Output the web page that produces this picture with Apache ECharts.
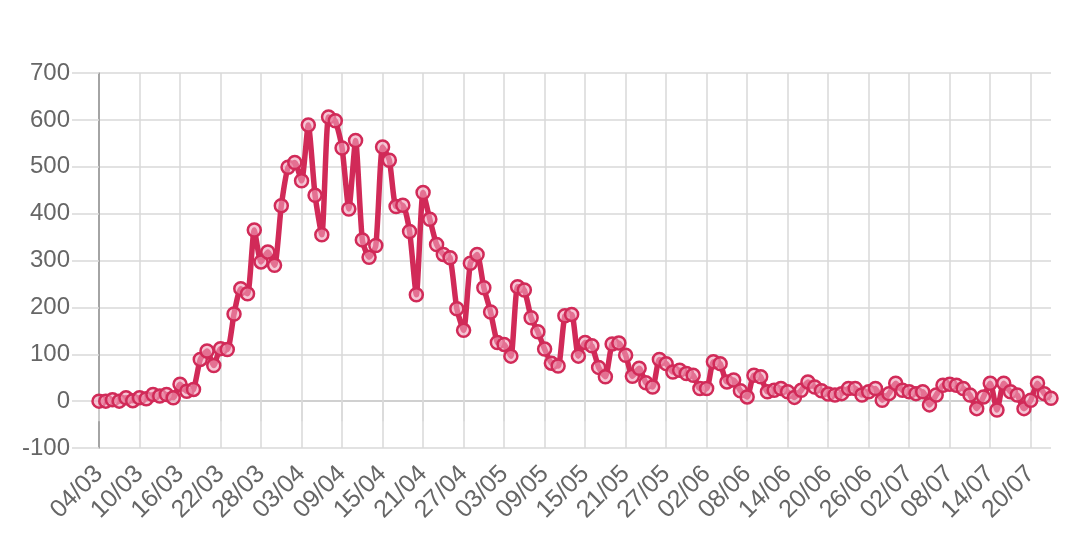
<!DOCTYPE html>
<html>
<head>
<meta charset="utf-8">
<script src="https://cdn.jsdelivr.net/npm/echarts@6/dist/echarts.min.js"></script>
<style>
html,body{margin:0;padding:0;background:#fff;}
#chart{width:1080px;height:536px;}
</style>
</head>
<body>
<div id="chart"></div>
<script>
const categories = [
"04/03","05/03","06/03","07/03","08/03","09/03","10/03","11/03","12/03","13/03","14/03","15/03","16/03","17/03","18/03","19/03","20/03","21/03","22/03","23/03","24/03","25/03","26/03","27/03","28/03","29/03","30/03","31/03",
"01/04","02/04","03/04","04/04","05/04","06/04","07/04","08/04","09/04","10/04","11/04","12/04","13/04","14/04","15/04","16/04","17/04","18/04","19/04","20/04","21/04","22/04","23/04","24/04","25/04","26/04","27/04","28/04","29/04","30/04",
"01/05","02/05","03/05","04/05","05/05","06/05","07/05","08/05","09/05","10/05","11/05","12/05","13/05","14/05","15/05","16/05","17/05","18/05","19/05","20/05","21/05","22/05","23/05","24/05","25/05","26/05","27/05","28/05","29/05","30/05","31/05",
"01/06","02/06","03/06","04/06","05/06","06/06","07/06","08/06","09/06","10/06","11/06","12/06","13/06","14/06","15/06","16/06","17/06","18/06","19/06","20/06","21/06","22/06","23/06","24/06","25/06","26/06","27/06","28/06","29/06","30/06",
"01/07","02/07","03/07","04/07","05/07","06/07","07/07","08/07","09/07","10/07","11/07","12/07","13/07","14/07","15/07","16/07","17/07","18/07","19/07","20/07","21/07","22/07","23/07"
];
const values = [
0,0,3,0,7,1,7,5,14,11,14,7,36,21,25,89,107,76,112,110,
186,240,229,365,297,318,290,417,499,509,470,589,439,355,606,598,540,410,556,344,
307,332,542,514,415,418,362,227,445,388,334,313,306,197,151,294,313,242,190,125,
121,96,244,237,178,148,111,81,75,182,185,96,125,118,72,52,122,124,98,53,
70,39,30,89,80,62,66,59,55,27,27,84,80,41,45,22,9,55,52,20,
23,27,20,8,23,41,30,22,15,13,16,27,27,13,20,27,2,16,38,23,
20,16,20,-8,13,34,36,34,27,13,-16,9,38,-19,38,20,13,-16,2,38,
16,6
];
const yMin = -100, yMax = 700, yStep = 100;

const light = '#d9d9d9', dark = '#9e9e9e';
const ySplitColors = [];
for (let v = yMin; v <= yMax; v += yStep) ySplitColors.push(v === 0 ? dark : light);
const xSplitColors = [dark];
for (let k = 1; k < 40; k++) xSplitColors.push(light);

const chart = echarts.init(document.getElementById('chart'), null, {renderer:'canvas'});
const font = '"Liberation Sans", Arial, Helvetica, sans-serif';
chart.setOption({
  animation: false,
  backgroundColor: '#fff',
  grid: {left: 99, right: 29, top: 73, bottom: 88, containLabel: false},
  xAxis: {
    type: 'category',
    data: categories,
    boundaryGap: false,
    axisLine: {show: true, lineStyle: {color: light, width: 1.5}},
    axisTick: {show: true, interval: 5, length: 20, lineStyle: {color: light, width: 1.5}},
    axisLabel: {interval: 5, rotate: 45, margin: 22, color: '#666', fontSize: 25, fontFamily: font},
    splitLine: {show: true, interval: 5, lineStyle: {color: xSplitColors, width: 1.5}}
  },
  yAxis: {
    type: 'value',
    min: yMin, max: yMax, interval: yStep,
    axisLine: {show: true, lineStyle: {color: dark, width: 1.5}},
    axisTick: {show: true, length: 27, lineStyle: {color: light, width: 1.5}},
    axisLabel: {margin: 29, color: '#666', fontSize: 24, fontFamily: font},
    splitLine: {show: true, lineStyle: {color: ySplitColors, width: 1.5}}
  },
  series: [{
    type: 'line',
    data: values,
    smooth: 0.2,
    symbol: 'circle',
    symbolSize: 13,
    showAllSymbol: true,
    lineStyle: {color: '#d12a58', width: 5.5, join: 'round'},
    itemStyle: {color: 'rgba(240,160,185,0.6)', borderColor: '#d12a58', borderWidth: 2.5}
  }]
});
</script>
</body>
</html>
